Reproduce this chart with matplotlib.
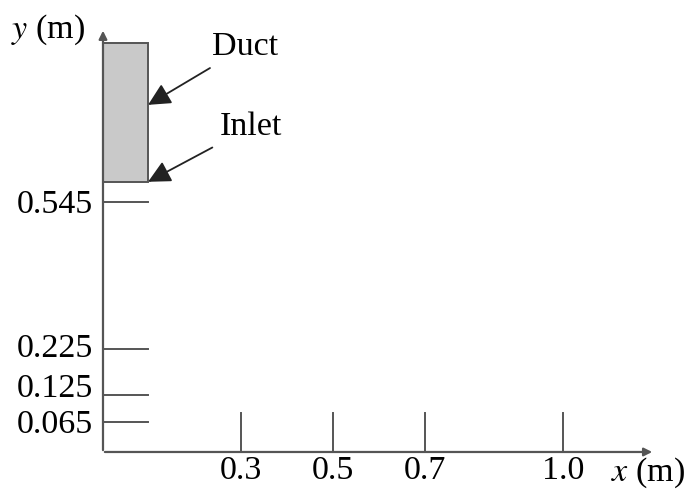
import matplotlib.pyplot as plt
from matplotlib.patches import Rectangle

plt.rcParams['font.family'] = ['Liberation Serif', 'DejaVu Serif']

# geometry of the domain (m)
y_marks = [0.065, 0.125, 0.225, 0.545]
y_labels = ['0.065', '0.125', '0.225', '0.545']
x_marks = [0.3, 0.5, 0.7, 1.0]
x_labels = ['0.3', '0.5', '0.7', '1.0']
duct_x = [0.0, 0.098]
duct_y = [0.59, 0.893]

line_c = '#555555'
fs = 24.5
# small vertical nudges (points) so the two lowest labels don't collide
nudge = {'0.065': -3, '0.125': 6, '0.225': 0, '0.545': -2}

fig = plt.figure(figsize=(6.95, 4.97), dpi=100)
ax = fig.add_axes([0, 0, 1, 1])
ax.set_xlim(-0.2239, 1.287)
ax.set_ylim(-0.0983, 0.987)
ax.axis('off')

# axes with arrow heads
ax.annotate('', xy=(1.2, 0), xytext=(-0.002, 0),
            arrowprops=dict(arrowstyle='-|>', color=line_c, lw=1.6, mutation_scale=12))
ax.annotate('', xy=(0, 0.926), xytext=(0, -0.002),
            arrowprops=dict(arrowstyle='-|>', color=line_c, lw=1.6, mutation_scale=12))

# duct
ax.add_patch(Rectangle((duct_x[0], duct_y[0]), duct_x[1] - duct_x[0], duct_y[1] - duct_y[0],
                       facecolor='#c9c9c9', edgecolor=line_c, lw=1.4, zorder=2))

# measurement heights
for y, lab in zip(y_marks, y_labels):
    ax.plot([0, duct_x[1]], [y, y], color=line_c, lw=1.4)
    ax.annotate(lab, xy=(-0.022, y), xytext=(0, nudge[lab] * 0.72), textcoords='offset points',
                ha='right', va='center', fontsize=fs)

# measurement stations
for x, lab in zip(x_marks, x_labels):
    ax.plot([x, x], [0, 0.085], color=line_c, lw=1.4)
    ax.text(x, -0.008, lab, ha='center', va='top', fontsize=fs)

ax.text(1.105, -0.008, r'$x$ (m)', ha='left', va='top', fontsize=fs, math_fontfamily='stix')
ax.text(-0.2, 0.922, r'$y$ (m)', ha='left', va='center', fontsize=fs, math_fontfamily='stix')

# labels with arrows
ax.annotate('Duct', xy=(duct_x[1], 0.758), xytext=(0.237, 0.884), fontsize=fs,
            va='center', ha='left',
            arrowprops=dict(arrowstyle='-|>', color='#222222', lw=1.3, mutation_scale=34,
                            shrinkA=4, shrinkB=0))
ax.annotate('Inlet', xy=(duct_x[1], duct_y[0]), xytext=(0.254, 0.71), fontsize=fs,
            va='center', ha='left',
            arrowprops=dict(arrowstyle='-|>', color='#222222', lw=1.3, mutation_scale=34,
                            shrinkA=4, shrinkB=0))

fig.savefig('out.png', dpi=100)
